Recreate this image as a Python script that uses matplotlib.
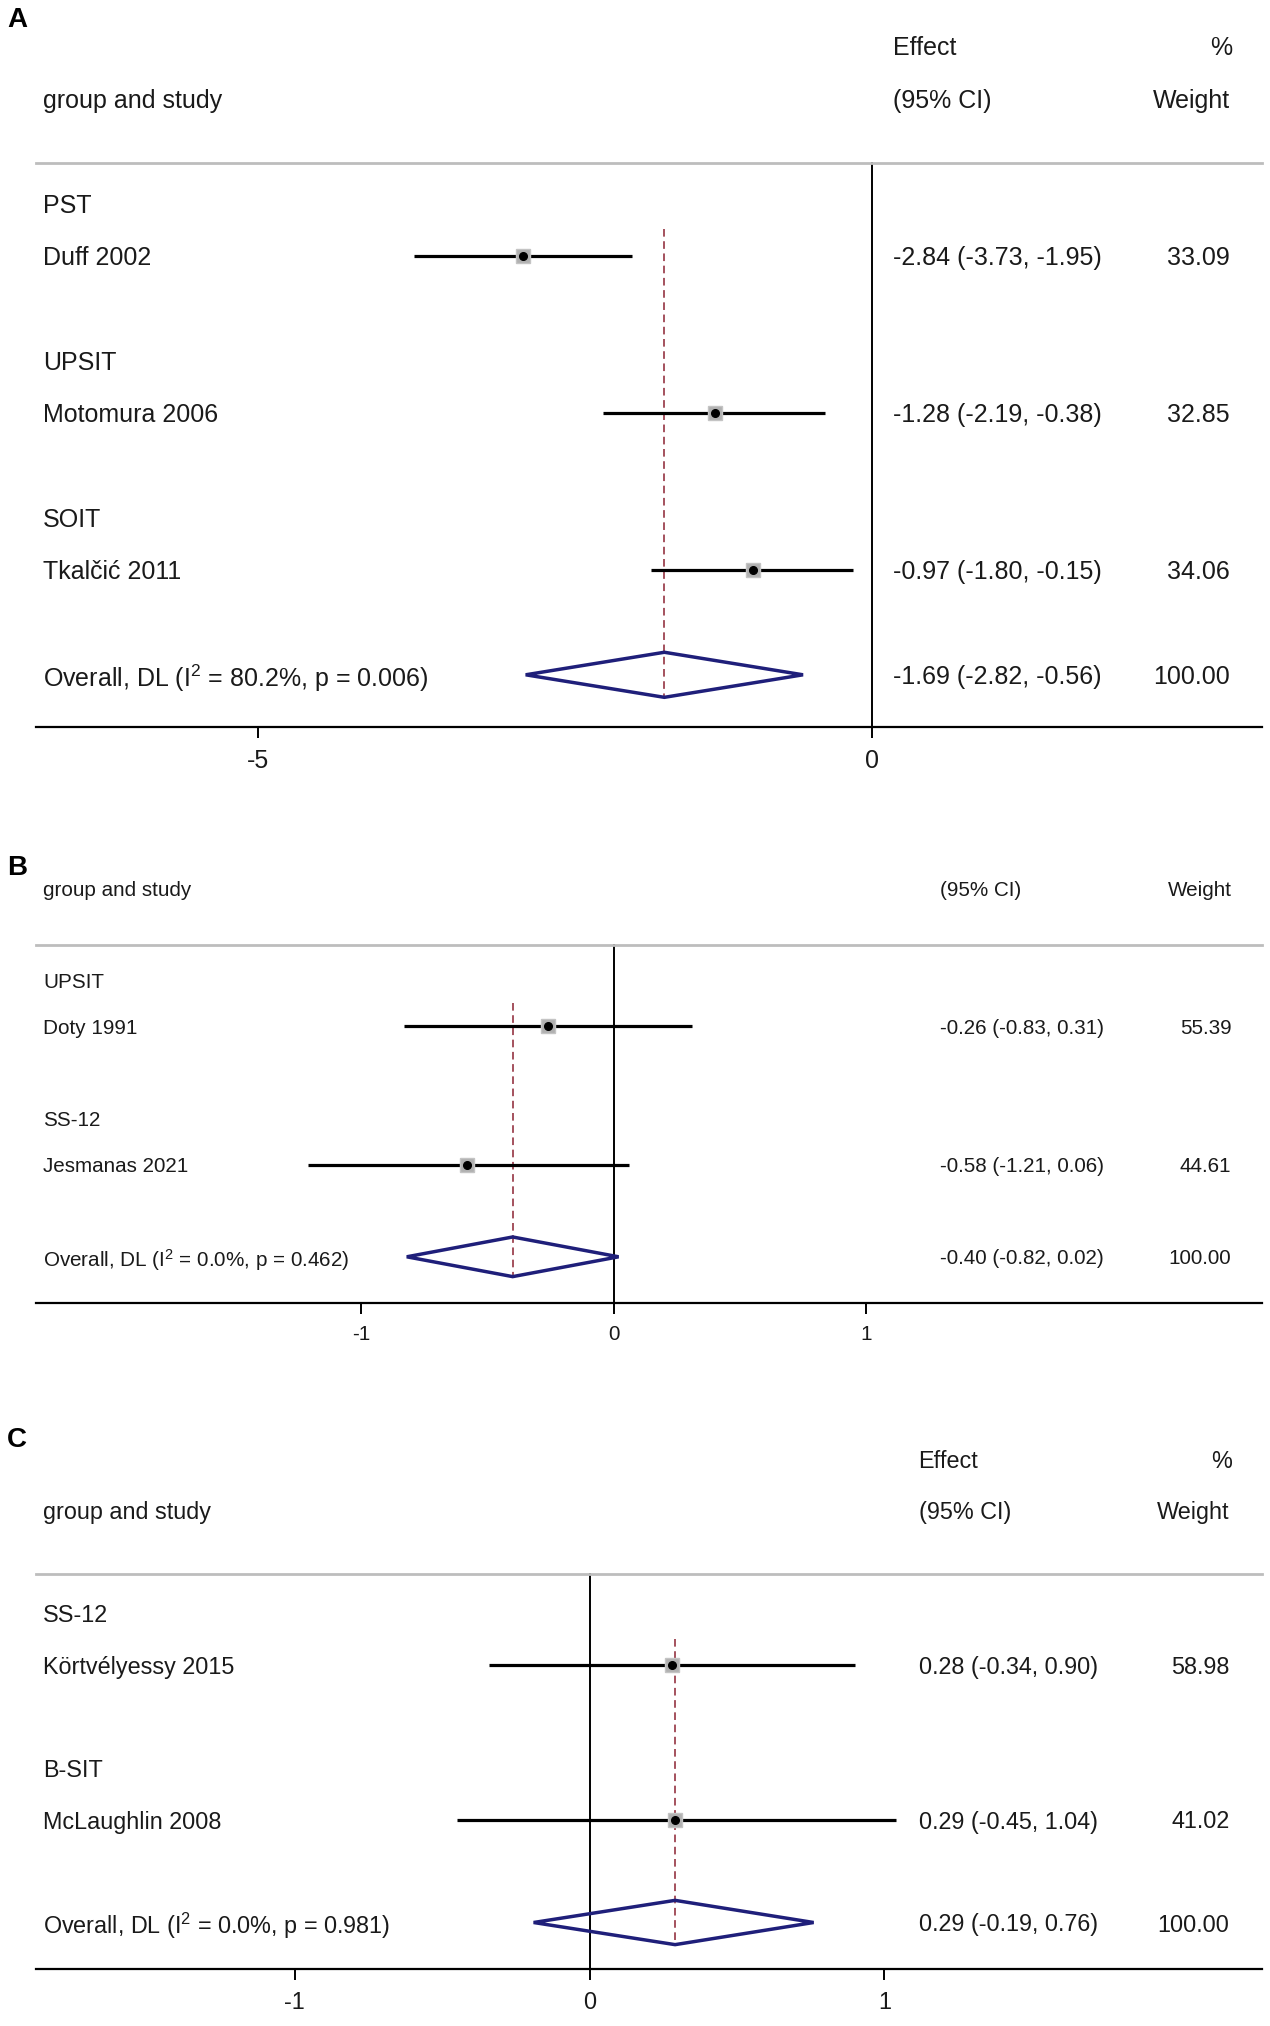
import matplotlib
matplotlib.use('Agg')
import matplotlib.pyplot as plt
from matplotlib.patches import Polygon

plt.rcParams['font.family'] = ['Liberation Sans', 'DejaVu Sans']
plt.rcParams['mathtext.fontset'] = 'custom'
plt.rcParams['mathtext.rm'] = 'Liberation Sans'
plt.rcParams['mathtext.default'] = 'regular'
plt.rcParams['axes.unicode_minus'] = False

# panel A
a_groups = ['PST', 'UPSIT', 'SOIT']
a_studies = ['Duff 2002', 'Motomura 2006', 'Tkalčić 2011']
a_es = [-2.84, -1.28, -0.97]
a_lo = [-3.73, -2.19, -1.80]
a_hi = [-1.95, -0.38, -0.15]
a_wt = [33.09, 32.85, 34.06]
a_overall = [-1.69, -2.82, -0.56]
a_i2 = 80.2
a_p = 0.006
a_ticks = [-5, 0]

# panel B
b_groups = ['UPSIT', 'SS-12']
b_studies = ['Doty 1991', 'Jesmanas 2021']
b_es = [-0.26, -0.58]
b_lo = [-0.83, -1.21]
b_hi = [0.31, 0.06]
b_wt = [55.39, 44.61]
b_overall = [-0.40, -0.82, 0.02]
b_i2 = 0.0
b_p = 0.462
b_ticks = [-1, 0, 1]

# panel C
c_groups = ['SS-12', 'B-SIT']
c_studies = ['Körtvélyessy 2015', 'McLaughlin 2008']
c_es = [0.28, 0.29]
c_lo = [-0.34, -0.45]
c_hi = [0.90, 1.04]
c_wt = [58.98, 41.02]
c_overall = [0.29, -0.19, 0.76]
c_i2 = 0.0
c_p = 0.981
c_ticks = [-1, 0, 1]

W, H = 1270, 2026
fig = plt.figure(figsize=(W / 100, H / 100), dpi=100)
txtc = '#1a1a1a'


def panel(groups, studies, es, lo, hi, wt, overall, i2, p, ticks,
          y0, unit, first, ytop, yaxis, xlim, xcol, xw, fs, two_head):
    top_px = y0 + ytop * unit
    bot_px = y0 + yaxis * unit
    ax = fig.add_axes([36 / W, (H - bot_px) / H, 1226 / W, (bot_px - top_px) / H])
    ax.set_xlim(xlim)
    ax.set_ylim(yaxis, ytop)
    xlab = xlim[0] + (xlim[1] - xlim[0]) * 7 / 1226
    kw = dict(fontsize=fs, color=txtc, va='center_baseline')

    # header
    if two_head:
        ax.text(xcol, 0, 'Effect', ha='left', **kw)
        ax.text(xw + (xlim[1] - xlim[0]) * 0.002, 0, '%', ha='right', **kw)
        hrow = 1
    else:
        hrow = 0
    ax.text(xlab, hrow, 'group and study', **kw)
    ax.text(xcol, hrow, '(95% CI)', **kw)
    ax.text(xw, hrow, 'Weight', ha='right', **kw)
    gline = hrow + 1.23
    ax.plot(xlim, [gline, gline], color='#bdbdbd', lw=2, clip_on=False)

    ys = []
    y = first
    for i in range(len(studies)):
        ax.text(xlab, y, groups[i], **kw)
        ys.append(y + 1)
        y += 3
    yo = ys[-1] + 2

    # zero line and overall dashed line
    ax.plot([0, 0], [gline, yaxis], color='black', lw=1.4, zorder=1)
    ax.plot([overall[0], overall[0]], [ys[0] - 0.5, yo + 0.43], color='#8b2232',
            lw=1.1, ls=(0, (5, 3)), zorder=2)

    for i in range(len(studies)):
        yy = ys[i]
        ax.plot([lo[i], hi[i]], [yy, yy], color='black', lw=2.3, zorder=3, solid_capstyle='butt')
        ax.plot(es[i], yy, marker='s', ms=9.5, color='#b0b0b0', mec='#c4c4c4', zorder=4)
        ax.plot(es[i], yy, marker='o', ms=5.5, color='black', zorder=5)
        ax.text(xlab, yy, studies[i], **kw)
        ax.text(xcol, yy, '%.2f (%.2f, %.2f)' % (es[i], lo[i], hi[i]), **kw)
        ax.text(xw, yy, '%.2f' % wt[i], ha='right', **kw)

    d = Polygon([[overall[1], yo], [overall[0], yo - 0.43], [overall[2], yo], [overall[0], yo + 0.43]],
                closed=True, fill=False, ec='#1f1f7a', lw=2.5, zorder=6)
    ax.add_patch(d)
    ax.text(xlab, yo, 'Overall, DL (I$^{2}$ = %.1f%%, p = %.3f)' % (i2, p), **kw)
    ax.text(xcol, yo, '%.2f (%.2f, %.2f)' % (overall[0], overall[1], overall[2]), **kw)
    ax.text(xw, yo, '100.00', ha='right', **kw)

    for s in ['top', 'left', 'right']:
        ax.spines[s].set_visible(False)
    ax.spines['bottom'].set_linewidth(1.6)
    ax.set_yticks([])
    ax.set_xticks(ticks)
    ax.set_xticklabels([str(t) for t in ticks])
    ax.tick_params(axis='x', length=8, width=1.4, pad=8, labelsize=fs, labelcolor=txtc)
    return ax


panel(a_groups, a_studies, a_es, a_lo, a_hi, a_wt, a_overall, a_i2, a_p, a_ticks,
      46, 52.4, 3, -0.8, 13, (-6.81, 3.18), 0.171, 2.92, 18.0, True)
panel(b_groups, b_studies, b_es, b_lo, b_hi, b_wt, b_overall, b_i2, b_p, b_ticks,
      888, 46.1, 2, -0.7, 9, (-2.29, 2.571), 1.295, 2.45, 14.9, False)
panel(c_groups, c_studies, c_es, c_lo, c_hi, c_wt, c_overall, c_i2, c_p, c_ticks,
      1459, 51.5, 3, -0.7, 9.9, (-1.878, 2.281), 1.116, 2.17, 16.8, True)

fig.text(7 / W, 1 - 20 / H, 'A', fontsize=20, fontweight='bold', va='center', ha='left')
fig.text(7 / W, 1 - 868 / H, 'B', fontsize=20, fontweight='bold', va='center', ha='left')
fig.text(7 / W, 1 - 1440 / H, 'C', fontsize=20, fontweight='bold', va='center', ha='left')

fig.savefig('out.png', dpi=100, facecolor='white')
